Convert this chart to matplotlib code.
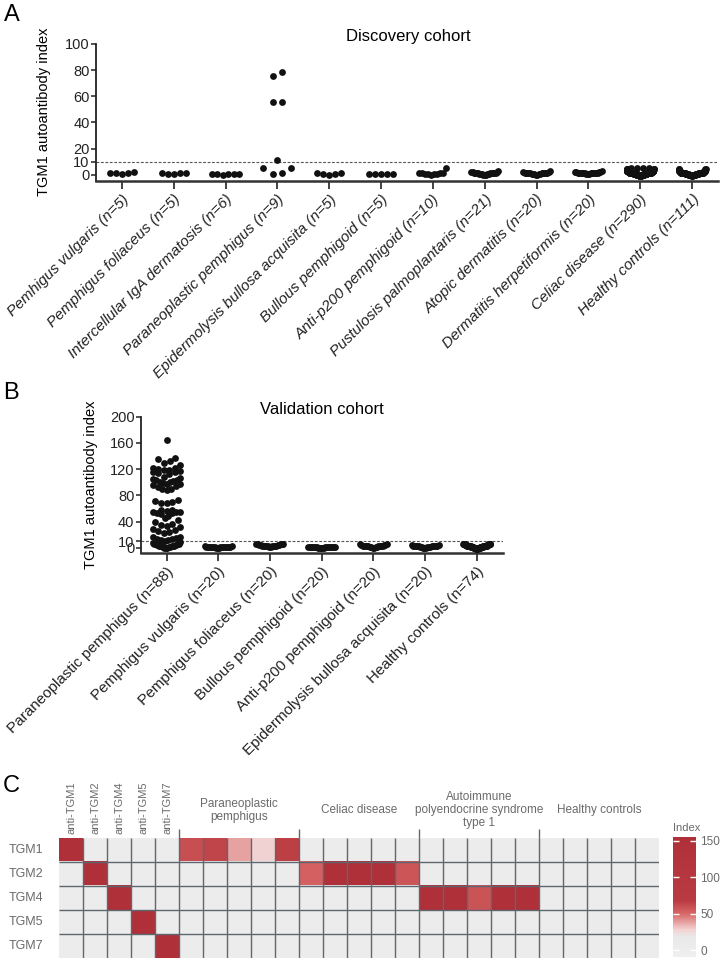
import numpy as np
import matplotlib.pyplot as plt
from matplotlib.colors import LinearSegmentedColormap, Normalize
from matplotlib.cm import ScalarMappable

plt.rcParams['font.family'] = ['Liberation Sans', 'DejaVu Sans']

W, H = 721, 963

# ---------------- panel A: discovery cohort ----------------
disc_names = ['Pemhigus vulgaris (n=5)', 'Pemphigus foliaceus (n=5)',
              'Intercellular IgA dermatosis (n=6)', 'Paraneoplastic pemphigus (n=9)',
              'Epidermolysis bullosa acquisita (n=5)', 'Bullous pemphigoid (n=5)',
              'Anti-p200 pemphigoid (n=10)', 'Pustulosis palmoplantaris (n=21)',
              'Atopic dermatitis (n=20)', 'Dermatitis herpetiformis (n=20)',
              'Celiac disease (n=290)', 'Healthy controls (n=111)']
disc_pv = [2.0, 1.0, 0.5, 1.0, 1.5]
disc_pf = [1.5, 0.5, 0.5, 1.0, 1.0]
disc_iga = [0.0, 0.5, 0.3, 0.5, 0.2, 0.4]
disc_pnp = [78.5, 75.5, 55.5, 55.8, 11.0, 5.0, 0.3, 1.5, 5.2]
disc_eba = [1.0, 0.5, 0.0, 0.5, 1.0]
disc_bp = [0.5, 0.5, 0.5, 0.5, 0.5]
disc_p200 = [0.0, 0.5, 0.5, 1.0, 5.0, 1.0, 0.5, 1.0, 1.5, 0.5]
# larger groups read as value levels + counts
pp_levels, pp_counts = [0, 0.5, 1, 1.5, 2, 2.5], [3, 5, 5, 4, 3, 1]
ad_levels, ad_counts = [0, 0.5, 1, 1.5, 2, 2.5], [2, 5, 6, 4, 2, 1]
dh_levels, dh_counts = [0.5, 1, 1.5, 2, 2.5], [3, 6, 6, 4, 1]
cd_levels, cd_counts = [-1, 0, 0.5, 1, 1.5, 2, 2.5, 3, 4, 5], [10, 60, 60, 50, 40, 30, 18, 12, 6, 4]
hc_levels, hc_counts = [-1, 0, 0.5, 1, 1.5, 2, 3, 4], [3, 25, 25, 22, 15, 10, 7, 4]

# ---------------- panel B: validation cohort ----------------
val_names = ['Paraneoplastic pemphigus (n=88)', 'Pemphigus vulgaris (n=20)',
             'Pemphigus foliaceus (n=20)', 'Bullous pemphigoid (n=20)',
             'Anti-p200 pemphigoid (n=20)', 'Epidermolysis bullosa acquisita (n=20)',
             'Healthy controls (n=74)']
val_pnp = [165,
           137, 135, 133, 130, 126,
           122, 121, 120, 119, 118, 117, 116, 115, 114, 113,
           108, 106, 105, 104, 103, 102, 101, 100, 99, 98, 97, 96,
           94, 92, 90, 89, 88,
           73, 71, 70, 69, 68,
           58, 57, 56, 55, 55, 54, 53, 53, 52,
           48, 46, 42, 40,
           36, 35, 33, 31,
           28, 27, 26, 24, 23,
           17, 16, 15, 14, 13, 12, 12, 11,
           8, 7, 6, 6, 5, 5, 4, 4, 3, 3, 3, 2, 2, 2, 1, 1, 1, 0, 0, 0]
vpv_levels, vpv_counts = [0, 0.5, 1, 1.5, 2], [3, 5, 6, 4, 2]
vpf_levels, vpf_counts = [1, 2, 3, 4, 5, 6], [2, 4, 5, 4, 3, 2]
vbp_levels, vbp_counts = [0, 0.5, 1, 1.5], [5, 7, 6, 2]
vp200_levels, vp200_counts = [0, 1, 2, 3, 4, 5], [2, 4, 5, 4, 3, 2]
veba_levels, veba_counts = [0, 1, 2, 3, 4], [3, 5, 6, 4, 2]
vhc_levels, vhc_counts = [-2, 0, 1, 2, 3, 4, 5, 6], [4, 14, 14, 12, 10, 9, 7, 4]

# ---------------- panel C: heatmap ----------------
hm_rows = ['TGM1', 'TGM2', 'TGM4', 'TGM5', 'TGM7']
hm_cols = ['anti-TGM1', 'anti-TGM2', 'anti-TGM4', 'anti-TGM5', 'anti-TGM7']
hm_groups = ['Paraneoplastic\npemphigus', 'Celiac disease',
             'Autoimmune\npolyendocrine syndrome\ntype 1', 'Healthy controls']
hm_tgm1 = [150, 2, 2, 2, 2, 60, 64, 38, 28, 66, 2, 3, 2, 2, 3, 3, 2, 3, 2, 2, 2, 3, 2, 3, 2]
hm_tgm2 = [2, 150, 2, 2, 2, 2, 2, 3, 2, 2, 53, 150, 150, 150, 57, 2, 3, 2, 2, 2, 2, 2, 2, 2, 2]
hm_tgm4 = [2, 2, 150, 2, 2, 2, 2, 2, 3, 2, 2, 2, 2, 2, 0, 150, 150, 58, 150, 150, 2, 2, 2, 2, 2]
hm_tgm5 = [2, 2, 2, 150, 2, 2, 1, 2, 2, 2, 2, 0, 2, 2, 2, 2, 1, 2, 2, 2, 2, 2, 8, 2, 2]
hm_tgm7 = [2, 2, 2, 2, 150, 2, 2, 2, 2, 2, 2, 2, 2, 2, 2, 2, 2, 2, 2, 2, 2, 2, 2, 2, 2]
cbar_ticks = [0, 50, 100, 150]


def expand(levels, counts):
    return np.repeat(levels, counts)


def swarm(ax, xpos, vals, spacing=5.9, maxw=13.5, rowh=7.0):
    # GraphPad-like rows: low values in the middle, higher ones pushed out
    vals = np.sort(np.asarray(vals, float))
    p0 = ax.transData.transform((0, 0))
    p1 = ax.transData.transform((1, 1))
    sx, sy = p1 - p0
    ypx = vals * sy
    xs = np.zeros_like(vals)
    i = 0
    while i < len(vals):
        j = i
        while j < len(vals) and ypx[j] - ypx[i] < rowh:
            j += 1
        k = j - i
        s = spacing if k == 1 else min(spacing, 2 * maxw / (k - 1))
        slots = (np.arange(k) - (k - 1) / 2) * s
        order = np.argsort(np.abs(slots), kind='stable')
        xs[i:j] = slots[order]
        i = j
    ax.scatter(xpos + xs / sx, vals, s=24, color='#111111', lw=0,
               clip_on=False, zorder=3)


def style_axes(ax):
    for sp in ['top', 'right']:
        ax.spines[sp].set_visible(False)
    ax.spines['left'].set_linewidth(1.3)
    ax.spines['left'].set_color('#222222')
    ax.spines['bottom'].set_linewidth(1.8)
    ax.spines['bottom'].set_color('#333333')
    ax.tick_params(axis='y', length=3.5, width=1.1, pad=1, labelsize=10.5, colors='#222222')
    ax.tick_params(axis='x', length=6, width=1.2, pad=2, colors='#222222')


fig = plt.figure(figsize=(W / 100, H / 100), dpi=100)

# ---- A
axA = fig.add_axes([96 / W, 1 - 181 / H, 622 / W, 137 / H])
axA.set_xlim(-0.5, 11.5)
axA.set_ylim(-4.8, 100)
style_axes(axA)
axA.set_yticks([0, 10, 20, 40, 60, 80, 100])
axA.set_xticks(range(len(disc_names)))
axA.set_xticklabels(disc_names, rotation=45, ha='right', rotation_mode='anchor',
                    fontsize=11, style='italic')
axA.axhline(10, color='#555555', lw=0.8, ls=(0, (2.5, 1.5)), zorder=1)
disc_groups = [disc_pv, disc_pf, disc_iga, disc_pnp, disc_eba, disc_bp, disc_p200,
               expand(pp_levels, pp_counts), expand(ad_levels, ad_counts),
               expand(dh_levels, dh_counts), expand(cd_levels, cd_counts),
               expand(hc_levels, hc_counts)]
for i, g in enumerate(disc_groups):
    if i == 3:
        swarm(axA, i, g, spacing=9.5, maxw=14)
    else:
        swarm(axA, i, g)
fig.text(408 / W, 1 - 37 / H, 'Discovery cohort', fontsize=12, ha='center', va='center')
fig.text(44 / W, 1 - 112 / H, 'TGM1 autoantibody index', fontsize=10.5,
         rotation=90, ha='center', va='center')
fig.text(4 / W, 1 - 15 / H, 'A', fontsize=17, va='center')

# ---- B
axB = fig.add_axes([140.7 / W, 1 - 553.3 / H, 362 / W, 136.6 / H])
axB.set_xlim(-0.5, 6.5)
axB.set_ylim(-8.5, 200)
style_axes(axB)
axB.set_yticks([0, 10, 40, 80, 120, 160, 200])
axB.set_xticks(range(len(val_names)))
axB.set_xticklabels(val_names, rotation=45, ha='right', rotation_mode='anchor', fontsize=11)
axB.axhline(10, color='#555555', lw=0.8, ls=(0, (2.5, 1.5)), zorder=1)
val_groups = [val_pnp, expand(vpv_levels, vpv_counts), expand(vpf_levels, vpf_counts),
              expand(vbp_levels, vbp_counts), expand(vp200_levels, vp200_counts),
              expand(veba_levels, veba_counts), expand(vhc_levels, vhc_counts)]
for i, g in enumerate(val_groups):
    swarm(axB, i, g, rowh=6.0)
fig.text(322 / W, 1 - 409 / H, 'Validation cohort', fontsize=12, ha='center', va='center')
fig.text(91 / W, 1 - 485 / H, 'TGM1 autoantibody index', fontsize=10.5,
         rotation=90, ha='center', va='center')
fig.text(3 / W, 1 - 393 / H, 'B', fontsize=17, va='center')

# ---- C
cmap = LinearSegmentedColormap.from_list('idx', [
    (0.0, '#efefef'), ((18 + 9) / 164, '#e9e9e9'), ((28 + 9) / 164, '#f2d2d2'),
    ((50 + 9) / 164, '#d96767'), ((68 + 9) / 164, '#b93b41'), (1.0, '#b0303a')])
norm = Normalize(vmin=-9, vmax=155)
hm = np.array([hm_tgm1, hm_tgm2, hm_tgm4, hm_tgm5, hm_tgm7], float)
nr, nc = hm.shape

axC = fig.add_axes([59.3 / W, 1 - 957.7 / H, 600 / W, 120 / H])
axC.imshow(hm, cmap=cmap, norm=norm, aspect='auto', extent=(0, nc, nr, 0),
           interpolation='nearest')
axC.set_xlim(0, nc)
axC.set_ylim(nr, 0)
axC.set_xticks([])
axC.set_yticks([])
for sp in axC.spines.values():
    sp.set_visible(False)
grid_c = '#5d6770'
axC.vlines(np.arange(1, nc), 0, nr, color=grid_c, lw=1.0)
axC.hlines(np.arange(1, nr), 0, nc, color=grid_c, lw=1.0)
axC.vlines([5, 10, 15, 20], -0.36, 0, color=grid_c, lw=1.0, clip_on=False)
txt_c = '#6a6a6a'
for r, name in enumerate(hm_rows):
    axC.text(-0.67, r + 0.5, name, ha='right', va='center', fontsize=9, color=txt_c)
for c, name in enumerate(hm_cols):
    axC.text(c + 0.5, -0.17, name, rotation=90, ha='center', va='bottom',
             fontsize=8, color=txt_c)
for g, name in enumerate(hm_groups):
    axC.text(5 * g + 7.5, -1.15, name, ha='center', va='center', fontsize=8.5,
             color=txt_c, linespacing=1.1)
fig.text(3 / W, 1 - 786 / H, 'C', fontsize=17, va='center')

cax = fig.add_axes([672.7 / W, 1 - 956.7 / H, 23.3 / W, 119.4 / H])
cb = fig.colorbar(ScalarMappable(norm=norm, cmap=cmap), cax=cax, ticks=cbar_ticks)
cb.outline.set_visible(False)
cax.yaxis.set_ticks_position('both')
cax.tick_params(direction='in', length=4, width=1, color='white', labelcolor=txt_c,
                labelsize=8.5, pad=3, labelleft=False, labelright=True)
fig.text(672.7 / W, 1 - 828 / H, 'Index', fontsize=8, color=txt_c, ha='left', va='center')

fig.savefig('out.png', dpi=100, facecolor='white')
